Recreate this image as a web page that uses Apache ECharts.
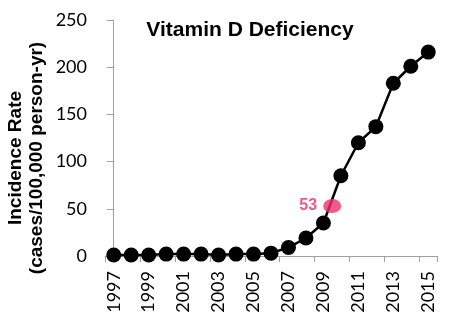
<!DOCTYPE html>
<html><head><meta charset="utf-8">
<script src="https://cdn.jsdelivr.net/npm/echarts@6/dist/echarts.min.js"></script>
<style>html,body{margin:0;padding:0;background:#fff}#c{width:457px;height:336px}</style>
</head><body><div id="c"></div>
<script>
const years = ['1997','1998','1999','2000','2001','2002','2003','2004','2005','2006','2007','2008','2009','2010','2011','2012','2013','2014','2015'];
const rates = [1, 1, 1, 2, 2, 2, 1, 2, 2, 3, 9, 19, 35, 85, 120, 137, 183, 201, 216];
const highlight = [[12.5, 53]];
const highlightLabel = '53';
const yTicks = [0, 50, 100, 150, 200, 250];
const titleText = 'Vitamin D Deficiency';
const yNameLines = ['Incidence Rate', '(cases/100,000 person-yr)'];

const chart = echarts.init(document.getElementById('c'));
chart.setOption({
  animation: false,
  backgroundColor: '#fff',
  title: {
    text: titleText, left: 245, top: 15, textAlign: 'center',
    textStyle: {fontFamily: 'Liberation Sans, Arial', fontWeight: 'bold', fontSize: 21, color: '#000'}
  },
  grid: {left: 105, right: 20, top: 20, bottom: 80},
  xAxis: [{
    type: 'category', data: years, boundaryGap: true,
    axisLine: {lineStyle: {color: '#a0a0a0', width: 1}},
    axisTick: {show: true, length: 6, lineStyle: {color: '#a0a0a0'}},
    axisLabel: {interval: 1, rotate: 90, margin: 15, fontFamily: 'Lato', fontSize: 18, color: '#000'}
  }, {
    type: 'value', min: -0.5, max: 18.5, show: false
  }],
  yAxis: {
    type: 'value', min: yTicks[0], max: yTicks[yTicks.length - 1], interval: 50,
    axisLine: {show: true, lineStyle: {color: '#a0a0a0', width: 1}},
    axisTick: {show: true, length: 7, lineStyle: {color: '#a0a0a0'}},
    splitLine: {show: false},
    axisLabel: {margin: 18, fontFamily: 'Lato', fontSize: 18, color: '#000'}
  },
  graphic: [{
    type: 'text', x: 16, y: 158, rotation: Math.PI / 2,
    style: {text: yNameLines[0], fontFamily: 'Liberation Sans, Arial', fontWeight: 'bold', fontSize: 19, fill: '#000', align: 'center', verticalAlign: 'middle'}
  }, {
    type: 'text', x: 37, y: 158, rotation: Math.PI / 2,
    style: {text: yNameLines[1], fontFamily: 'Liberation Sans, Arial', fontWeight: 'bold', fontSize: 19, fill: '#000', align: 'center', verticalAlign: 'middle'}
  }],
  series: [{
    type: 'line', data: rates, xAxisIndex: 0,
    symbol: 'circle', symbolSize: 15, showAllSymbol: true,
    lineStyle: {color: '#000', width: 2.5},
    itemStyle: {color: '#000'}
  }, {
    type: 'scatter', data: highlight, xAxisIndex: 1,
    symbol: 'circle', symbolSize: [18, 14],
    itemStyle: {color: '#ee2f6c'},
    label: {show: true, position: 'left', distance: 6, formatter: highlightLabel,
      fontFamily: 'Liberation Sans, Arial', fontWeight: 'bold', fontSize: 16, color: '#ee2f6c'},
    z: 5
  }]
});
</script></body></html>
